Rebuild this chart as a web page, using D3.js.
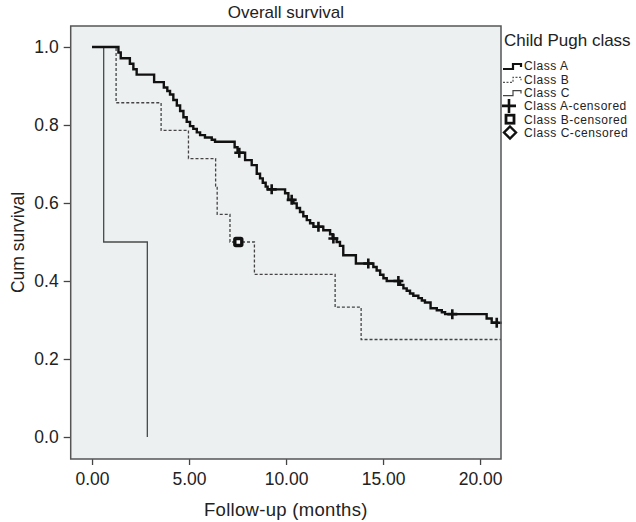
<!DOCTYPE html>
<html><head><meta charset="utf-8">
<script src="https://cdn.jsdelivr.net/npm/d3@7"></script>
<style>body{margin:0;background:#fff}svg{display:block;font-family:"Liberation Sans",Arial,Helvetica,sans-serif}</style>
</head><body><svg id="c" width="636" height="522"></svg>
<script>
// ---- data ----
const classATimes = [
  1.36,1.48,1.95,2.13,2.30,3.20,3.70,3.88,4.02,4.19,
  4.37,4.54,4.71,4.88,5.05,5.22,5.40,5.57,5.82,6.17,
  6.34,7.35,7.50,7.89,8.23,8.49,8.66,8.80,8.95,9.05,
  9.95,10.12,10.38,10.55,10.72,10.89,11.07,11.24,11.41,11.92,
  12.27,12.40,12.61,12.78,12.95,13.60,14.50,14.67,14.85,15.02,
  15.19,15.88,16.05,16.22,16.39,16.56,16.82,17.00,17.16,17.45,
  17.77,18.03,18.20,20.34,20.60];
const classASurv = [
  0.986,0.971,0.957,0.943,0.929,0.910,0.896,0.887,0.878,0.864,
  0.850,0.836,0.820,0.808,0.797,0.790,0.781,0.774,0.768,0.762,
  0.757,0.743,0.729,0.710,0.697,0.675,0.663,0.652,0.642,0.635,
  0.625,0.608,0.599,0.587,0.577,0.566,0.556,0.548,0.539,0.530,
  0.520,0.509,0.500,0.490,0.466,0.445,0.436,0.427,0.416,0.407,
  0.400,0.390,0.381,0.375,0.368,0.362,0.356,0.350,0.345,0.330,
  0.325,0.320,0.315,0.304,0.293];
const classACensored = [7.59, 9.26, 10.29, 11.67, 12.44, 14.24, 15.79, 18.57, 20.86];
const classAEnd = 20.95;

const classBTimes = [1.24, 3.56, 4.97, 6.37, 6.45, 7.11, 8.37, 12.53, 13.87];
const classBSurv  = [0.857, 0.786, 0.714, 0.643, 0.571, 0.500, 0.417, 0.333, 0.250];
const classBCensored = [7.54];
const classBEnd = 21.08;

const classCTimes = [0.6, 2.85];
const classCSurv  = [0.5, 0.0];

const xTicks = [0, 5, 10, 15, 20];
const yTicks = [0, 0.2, 0.4, 0.6, 0.8, 1.0];
const legendLabels = ["Class A","Class B","Class C","Class A-censored","Class B-censored","Class C-censored"];

// ---- layout ----
const svg = d3.select("#c");
const L = 70.7, R = 501, T = 26, B = 459;
const x = d3.scaleLinear().domain([-1.1, 21.08]).range([L, R]);
const y = d3.scaleLinear().domain([-0.0564, 1.0538]).range([B, T]);

svg.append("rect").attr("x", L).attr("y", T).attr("width", R - L).attr("height", B - T)
  .attr("fill", "#ecf0f1");

// axes
const gx = svg.append("g").attr("transform", `translate(0,${B})`)
  .call(d3.axisBottom(x).tickValues(xTicks).tickFormat(d3.format(".2f")).tickSize(6).tickPadding(8));
const gy = svg.append("g").attr("transform", `translate(${L},0)`)
  .call(d3.axisLeft(y).tickValues(yTicks).tickFormat(d3.format(".1f")).tickSize(7).tickPadding(5));
[gx, gy].forEach(g => {
  g.select(".domain").remove();
  g.selectAll("line").attr("stroke", "#444").attr("stroke-width", 1.3);
  g.selectAll("text").attr("fill", "#222").style("font-size", "17.5px").style("font-family", '"Liberation Sans",Arial,sans-serif');
});

// curves
function stepPoints(times, surv, end) {
  const pts = [[0, 1]];
  times.forEach((t, i) => pts.push([t, surv[i]]));
  if (end !== undefined) pts.push([end, surv[surv.length - 1]]);
  return pts;
}
function survAt(times, surv, t) {
  let s = 1;
  times.forEach((tt, i) => { if (tt <= t) s = surv[i]; });
  return s;
}
const line = d3.line().x(d => x(d[0])).y(d => y(d[1])).curve(d3.curveStepAfter);

svg.append("path").datum(stepPoints(classCTimes, classCSurv))
  .attr("d", line).attr("fill", "none").attr("stroke", "#4a4a4a").attr("stroke-width", 1.3);
svg.append("path").datum(stepPoints(classBTimes, classBSurv, classBEnd))
  .attr("d", line).attr("fill", "none").attr("stroke", "#444").attr("stroke-width", 1.3)
  .attr("stroke-dasharray", "3,2");
svg.append("path").datum(stepPoints(classATimes, classASurv, classAEnd))
  .attr("d", line).attr("fill", "none").attr("stroke", "#111").attr("stroke-width", 2.4);

// censor marks
const plusSize = 5;
svg.append("g").selectAll("path").data(classACensored).join("path")
  .attr("d", t => {
    const cx = x(t), cy = y(survAt(classATimes, classASurv, t));
    return `M${cx - plusSize},${cy}H${cx + plusSize}M${cx},${cy - plusSize}V${cy + plusSize}`;
  })
  .attr("stroke", "#111").attr("stroke-width", 2.6).attr("fill", "none");
svg.append("g").selectAll("rect").data(classBCensored).join("rect")
  .attr("x", t => x(t) - 3.5).attr("y", t => y(survAt(classBTimes, classBSurv, t)) - 3.5)
  .attr("width", 7).attr("height", 7).attr("rx", 1)
  .attr("fill", "#fff").attr("stroke", "#111").attr("stroke-width", 3.4);

// frame
svg.append("rect").attr("x", L).attr("y", T).attr("width", R - L).attr("height", B - T)
  .attr("fill", "none").attr("stroke", "#555").attr("stroke-width", 1.5);

// titles
svg.append("text").attr("x", (L + R) / 2).attr("y", 18).attr("text-anchor", "middle")
  .style("font-size", "17px").attr("fill", "#222").text("Overall survival");
svg.append("text").attr("x", (L + R) / 2).attr("y", 516).attr("text-anchor", "middle")
  .style("font-size", "18.5px").style("letter-spacing", "0.3px").attr("fill", "#222").text("Follow-up (months)");
svg.append("text").attr("transform", `translate(24,${(T + B) / 2}) rotate(-90)`).attr("text-anchor", "middle")
  .style("font-size", "17.5px").attr("fill", "#222").text("Cum survival");

// legend
const lg = svg.append("g");
lg.append("text").attr("x", 504).attr("y", 46).style("font-size", "17px").attr("fill", "#222").text("Child Pugh class");
const rowY = i => 66 + i * 13.3;
legendLabels.forEach((lab, i) => {
  lg.append("text").attr("x", 524).attr("y", rowY(i)).attr("dy", "0.36em")
    .style("font-size", "12px").style("letter-spacing", "0.55px").attr("fill", "#222").text(lab);
});
const iconPath = cy => `M503,${cy + 3}H513V${cy - 2}H521V${cy + 1}`;
lg.append("path").attr("d", iconPath(rowY(0))).attr("fill", "none").attr("stroke", "#111").attr("stroke-width", 2.2);
lg.append("path").attr("d", iconPath(rowY(1))).attr("fill", "none").attr("stroke", "#555").attr("stroke-width", 1.2).attr("stroke-dasharray", "2,1.5");
lg.append("path").attr("d", iconPath(rowY(2))).attr("fill", "none").attr("stroke", "#444").attr("stroke-width", 1.2);
{
  const cy = rowY(3), cx = 509;
  lg.append("path").attr("d", `M${cx - 7},${cy}H${cx + 7}M${cx},${cy - 7}V${cy + 7}`)
    .attr("stroke", "#111").attr("stroke-width", 2.6);
}
{
  const cy = rowY(4), cx = 510;
  lg.append("rect").attr("x", cx - 4).attr("y", cy - 4).attr("width", 8).attr("height", 8)
    .attr("fill", "#fff").attr("stroke", "#111").attr("stroke-width", 2.8);
}
{
  const cy = rowY(5), cx = 510;
  lg.append("path").attr("d", `M${cx},${cy - 6}L${cx + 6},${cy}L${cx},${cy + 6}L${cx - 6},${cy}Z`)
    .attr("fill", "#fff").attr("stroke", "#111").attr("stroke-width", 2.4);
}
</script></body></html>
